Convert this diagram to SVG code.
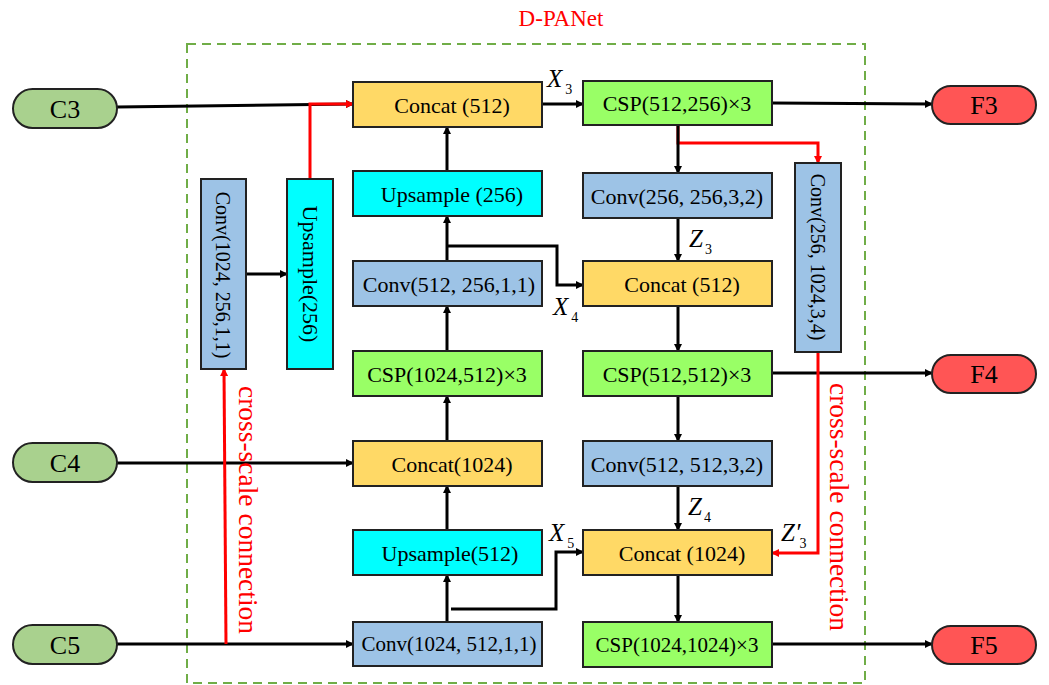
<svg xmlns="http://www.w3.org/2000/svg" width="1049" height="685" viewBox="0 0 1049 685">
<defs>
<marker id="ab" markerWidth="8" markerHeight="8" refX="7" refY="4" orient="auto" markerUnits="userSpaceOnUse" viewBox="0 0 8 8"><path d="M0,0 L8,4 L0,8 z" fill="#000"/></marker>
<marker id="ar" markerWidth="8" markerHeight="8" refX="7" refY="4" orient="auto" markerUnits="userSpaceOnUse" viewBox="0 0 8 8"><path d="M0,0 L8,4 L0,8 z" fill="#FF0000"/></marker>
</defs>
<style>
text{font-family:"Times New Roman","Liberation Serif","Noto Serif","DejaVu Serif",serif;}
.n{stroke:#222;stroke-width:2;}
.pin{fill:#A9D18E;}
.pout{fill:#FF5555;}
.cat{fill:#FFD966;}
.cv{fill:#9DC3E6;}
.up{fill:#00FFFF;}
.csp{fill:#99FF66;}
.t{font-size:22px;fill:#000;text-anchor:middle;dominant-baseline:central;}
.tp{font-size:26px;fill:#000;text-anchor:middle;dominant-baseline:central;}
.bl{stroke:#000;stroke-width:3;fill:none;}
.rd{stroke:#FF0000;stroke-width:3;fill:none;}
.lab{font-size:25px;font-style:italic;fill:#000;}
.sub{font-size:14px;font-style:normal;}
.red{fill:#FF0000;}
</style>
<rect x="187" y="44" width="678" height="639" fill="none" stroke="#70AD47" stroke-width="2" stroke-dasharray="9,6"/>
<text x="561" y="26" class="red" style="font-size:23px;text-anchor:middle">D-PANet</text>

<g id="connectors">
<path class="bl" d="M117,107 L353,104" marker-end="url(#ab)"/>
<path class="rd" d="M310,179 L310,104 L353,104" marker-end="url(#ar)"/>
<path class="bl" d="M542,104 L583,104" marker-end="url(#ab)"/>
<path class="bl" d="M772,103 L932,104" marker-end="url(#ab)"/>
<path class="rd" d="M678,125 L678,143 L818,143 L818,163" marker-end="url(#ar)"/>
<path class="bl" d="M678,125 L678,173" marker-end="url(#ab)"/>
<path class="bl" d="M678,218 L678,261" marker-end="url(#ab)"/>
<path class="bl" d="M447,171 L447,127" marker-end="url(#ab)"/>
<path class="bl" d="M447,261 L447,216" marker-end="url(#ab)"/>
<path class="bl" d="M447,246 L557,246 L557,285 L583,285" marker-end="url(#ab)"/>
<path class="bl" d="M447,351 L447,306" marker-end="url(#ab)"/>
<path class="bl" d="M447,441 L447,396" marker-end="url(#ab)"/>
<path class="bl" d="M447,530 L447,486" marker-end="url(#ab)"/>
<path class="bl" d="M447,622 L447,575" marker-end="url(#ab)"/>
<path class="bl" d="M451,609 L556,609 L556,552 L583,552" marker-end="url(#ab)"/>
<path class="bl" d="M117,463 L353,463" marker-end="url(#ab)"/>
<path class="bl" d="M117,644 L353,644" marker-end="url(#ab)"/>
<path class="bl" d="M678,306 L678,351" marker-end="url(#ab)"/>
<path class="bl" d="M772,373 L932,373" marker-end="url(#ab)"/>
<path class="bl" d="M678,396 L678,441" marker-end="url(#ab)"/>
<path class="bl" d="M678,486 L678,530" marker-end="url(#ab)"/>
<path class="bl" d="M678,575 L678,622" marker-end="url(#ab)"/>
<path class="bl" d="M772,644 L932,644" marker-end="url(#ab)"/>
<path class="rd" d="M818,352 L818,553 L772,553" marker-end="url(#ar)"/>
<path class="rd" d="M226,644 L224,369" marker-end="url(#ar)"/>
<path class="bl" d="M246,274 L287,274" marker-end="url(#ab)"/>
</g>

<g id="C3"><rect class="n pin" x="13" y="89" width="104" height="39" rx="19.5"/><text class="tp" x="65" y="109">C3</text></g>
<g id="C4"><rect class="n pin" x="13" y="443" width="104" height="39" rx="19.5"/><text class="tp" x="65" y="463">C4</text></g>
<g id="C5"><rect class="n pin" x="13" y="625" width="104" height="39" rx="19.5"/><text class="tp" x="65" y="645">C5</text></g>
<g id="F3"><rect class="n pout" x="932" y="86" width="104" height="38" rx="19"/><text class="tp" x="984" y="105">F3</text></g>
<g id="F4"><rect class="n pout" x="932" y="355" width="104" height="38" rx="19"/><text class="tp" x="984" y="374">F4</text></g>
<g id="F5"><rect class="n pout" x="932" y="626" width="104" height="38" rx="19"/><text class="tp" x="984" y="645">F5</text></g>

<g id="concat512a"><rect class="n cat" x="353" y="82" width="189" height="45"/><text class="t" x="452" y="105">Concat (512)</text></g>
<g id="upsample256"><rect class="n up" x="353" y="171" width="189" height="45"/><text class="t" x="452" y="194">Upsample (256)</text></g>
<g id="conv512_256"><rect class="n cv" x="353" y="261" width="189" height="45"/><text class="t" x="449" y="284">Conv(512, 256,1,1)</text></g>
<g id="csp1024_512"><rect class="n csp" x="353" y="351" width="189" height="45"/><text class="t" x="447" y="374">CSP(1024,512)×3</text></g>
<g id="concat1024a"><rect class="n cat" x="353" y="441" width="189" height="45"/><text class="t" x="452" y="464">Concat(1024)</text></g>
<g id="upsample512"><rect class="n up" x="353" y="530" width="189" height="45"/><text class="t" x="450" y="553">Upsample(512)</text></g>
<g id="conv1024_512"><rect class="n cv" x="353" y="622" width="189" height="44"/><text class="t" x="449" y="644" style="font-size:21px">Conv(1024, 512,1,1)</text></g>

<g id="csp512_256"><rect class="n csp" x="583" y="81" width="189" height="44"/><text class="t" x="677" y="103">CSP(512,256)×3</text></g>
<g id="conv256_256"><rect class="n cv" x="583" y="173" width="189" height="45"/><text class="t" x="677" y="196">Conv(256, 256,3,2)</text></g>
<g id="concat512b"><rect class="n cat" x="583" y="261" width="189" height="45"/><text class="t" x="682" y="284">Concat (512)</text></g>
<g id="csp512_512"><rect class="n csp" x="583" y="351" width="189" height="45"/><text class="t" x="677" y="374">CSP(512,512)×3</text></g>
<g id="conv512_512"><rect class="n cv" x="583" y="441" width="189" height="45"/><text class="t" x="677" y="464">Conv(512, 512,3,2)</text></g>
<g id="concat1024b"><rect class="n cat" x="583" y="530" width="189" height="45"/><text class="t" x="682" y="553">Concat (1024)</text></g>
<g id="csp1024_1024"><rect class="n csp" x="583" y="622" width="189" height="45"/><text class="t" x="677" y="645" style="font-size:21px">CSP(1024,1024)×3</text></g>

<g id="conv256_1024"><rect class="n cv" x="795" y="163" width="46" height="189"/><text class="t" transform="translate(818,257) rotate(90)" x="0" y="0" style="font-size:20px">Conv(256, 1024,3,4)</text></g>
<g id="conv1024_256"><rect class="n cv" x="201" y="179" width="45" height="190"/><text class="t" transform="translate(223,275) rotate(90)" x="0" y="0" style="font-size:20px">Conv(1024, 256,1,1)</text></g>
<g id="upsample256v"><rect class="n up" x="287" y="179" width="46" height="190"/><text class="t" transform="translate(310,274) rotate(90)" x="0" y="0" style="font-size:22px">Upsample(256)</text></g>

<g id="labels">
<text class="lab" x="547" y="87">X<tspan class="sub" dx="3" dy="7">3</tspan></text>
<text class="lab" x="689" y="247">Z<tspan class="sub" dx="2" dy="7">3</tspan></text>
<text class="lab" x="553" y="315">X<tspan class="sub" dx="3" dy="7">4</tspan></text>
<text class="lab" x="549" y="541">X<tspan class="sub" dx="3" dy="7">5</tspan></text>
<text class="lab" x="688" y="515">Z<tspan class="sub" dx="2" dy="7">4</tspan></text>
<text class="lab" x="781" y="541">Z′<tspan class="sub" dx="-1" dy="7">3</tspan></text>
<text class="red" transform="translate(248,510) rotate(90)" style="font-size:27.5px;text-anchor:middle;dominant-baseline:central">cross-scale connection</text>
<text class="red" transform="translate(839,507) rotate(90)" style="font-size:27.5px;text-anchor:middle;dominant-baseline:central">cross-scale connection</text>
</g>
</svg>
